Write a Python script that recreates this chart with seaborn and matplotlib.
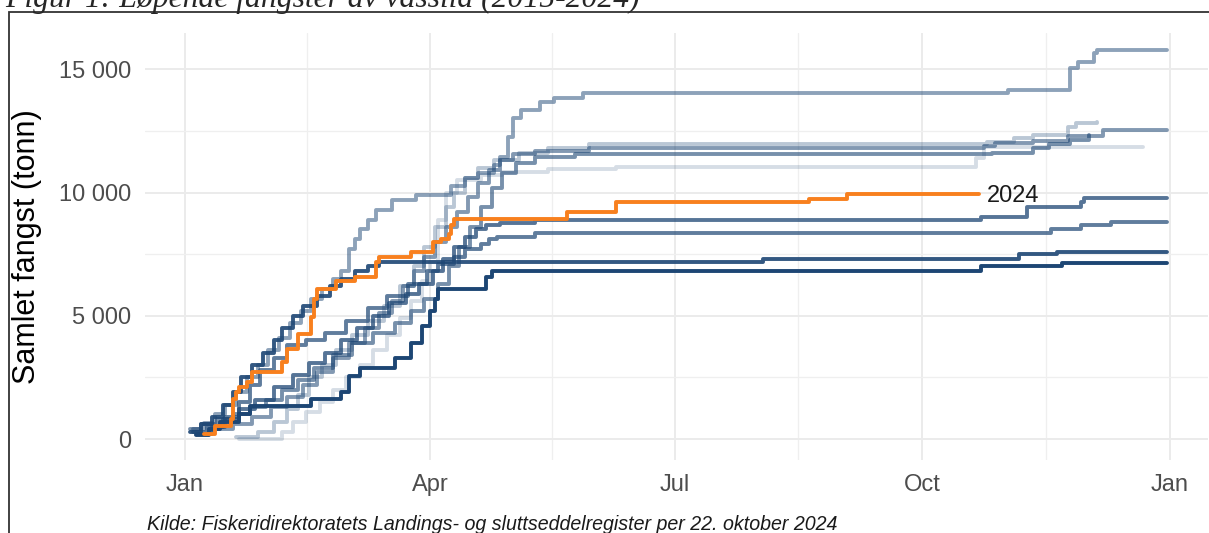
import matplotlib
matplotlib.use("Agg")
import matplotlib.pyplot as plt
from matplotlib.patches import Rectangle
import matplotlib.dates as mdates
import numpy as np
import pandas as pd
import seaborn as sns

# cumulative catch (tonn) per year
# days = days after 1 January, values step up at these days
days_2015 = [20, 33, 36, 40, 45, 50, 55, 60, 65, 70, 75, 80, 84, 88, 91, 94, 97, 101, 110, 118, 135, 160, 294, 297, 356]
tonn_2015 = [0, 0, 300, 700, 1100, 1500, 2000, 2500, 3000, 3600, 4200, 4900, 5600, 6400, 7200, 8900, 10000, 10500, 10700, 10850, 10950, 11050, 11420, 11860, 11860]

days_2016 = [19, 27, 33, 38, 42, 46, 51, 56, 62, 68, 74, 80, 85, 89, 93, 97, 100, 104, 109, 115, 124, 135, 150, 298, 308, 315, 328, 331, 339]
tonn_2016 = [100, 300, 700, 1200, 1800, 2500, 3000, 3600, 4200, 4800, 5400, 6200, 7000, 7800, 8600, 9400, 10000, 10600, 11000, 11300, 11600, 11800, 11950, 12060, 12230, 12350, 12670, 12830, 12870]

days_2017 = [3, 7, 11, 15, 19, 23, 27, 31, 35, 39, 43, 47, 51, 55, 58, 61, 63, 65, 68, 71, 77, 86, 99, 104, 109, 115, 117, 120, 122, 125, 132, 137, 148, 306, 329, 332, 338, 339, 365]
tonn_2017 = [400, 650, 1000, 1400, 1900, 2500, 3000, 3600, 4100, 4700, 5200, 5700, 6100, 6500, 6800, 7700, 8100, 8500, 8900, 9300, 9700, 9900, 10250, 10600, 10800, 11100, 11450, 12270, 13040, 13360, 13680, 13850, 14050, 14170, 15060, 15300, 15670, 15800, 15800]

days_2018 = [4, 10, 18, 25, 32, 38, 44, 49, 55, 61, 67, 72, 77, 81, 85, 89, 93, 97, 101, 105, 109, 113, 117, 122, 130, 150, 297, 301, 315, 328, 341, 365]
tonn_2018 = [200, 400, 600, 900, 1300, 1700, 2200, 2700, 3300, 3900, 4500, 5100, 5600, 6200, 6800, 7400, 8000, 8600, 9200, 9800, 10400, 10900, 11300, 11550, 11700, 11820, 11900, 12000, 12100, 12300, 12550, 12550]

days_2019 = [2, 6, 12, 18, 24, 30, 36, 42, 48, 55, 62, 70, 78, 84, 89, 94, 98, 102, 106, 110, 114, 118, 123, 130, 145, 300, 315, 321, 329, 336]
tonn_2019 = [400, 600, 800, 1000, 1300, 1600, 2000, 2400, 2900, 3400, 3900, 4300, 4700, 5200, 5700, 6300, 7000, 7800, 8600, 9400, 10200, 10800, 11200, 11450, 11580, 11620, 11800, 11950, 12150, 12350]

days_2020 = [5, 10, 15, 20, 24, 28, 33, 38, 45, 52, 60, 68, 75, 83, 90, 94, 100, 104, 110, 113, 116, 130, 322, 333, 344, 365]
tonn_2020 = [200, 500, 900, 1500, 2200, 2800, 3300, 3800, 4000, 4300, 4800, 5300, 5800, 6300, 6800, 7100, 7400, 7700, 7900, 8100, 8200, 8340, 8500, 8700, 8790, 8790]

days_2021 = [3, 8, 14, 20, 26, 33, 40, 46, 52, 58, 64, 70, 76, 82, 87, 92, 96, 100, 104, 108, 112, 117, 130, 296, 313, 333, 334, 365]
tonn_2021 = [300, 500, 800, 1200, 1600, 2100, 2600, 3100, 3500, 4000, 4500, 5000, 5500, 5900, 6300, 6800, 7300, 7800, 8200, 8500, 8700, 8780, 8900, 8990, 9430, 9600, 9760, 9760]

days_2022 = [2, 6, 10, 14, 18, 21, 25, 29, 33, 36, 40, 44, 49, 54, 58, 63, 68, 72, 215, 310, 324, 365]
tonn_2022 = [300, 600, 900, 1400, 1900, 2500, 3000, 3500, 4000, 4500, 5000, 5400, 5800, 6200, 6500, 6800, 7000, 7200, 7290, 7490, 7570, 7570]

days_2023 = [4, 9, 13, 20, 24, 47, 58, 61, 65, 78, 84, 88, 91, 93, 94, 112, 114, 296, 326, 365]
tonn_2023 = [150, 400, 700, 1000, 1340, 1620, 1900, 2550, 2900, 3300, 3900, 4600, 5200, 5700, 6070, 6560, 6800, 7000, 7125, 7125]

days_2024 = [7, 11, 17, 18, 19, 20, 23, 25, 36, 38, 42, 47, 48, 49, 56, 63, 71, 72, 84, 92, 95, 98, 99, 100, 142, 160, 232, 246, 295]
tonn_2024 = [200, 530, 810, 1620, 1900, 2100, 2310, 2710, 3120, 3640, 4250, 4940, 5670, 6070, 6400, 6560, 7170, 7370, 7570, 7980, 8100, 8300, 8700, 8910, 9190, 9600, 9720, 9920, 9920]

old_years = [2015, 2016, 2017, 2018, 2019, 2020, 2021, 2022, 2023]
old_alpha = [0.18, 0.3, 0.5, 0.55, 0.6, 0.7, 0.75, 0.9, 1.0]

y_ticks = [0, 5000, 10000, 15000]
y_labels = ["0", "5 000", "10 000", "15 000"]
x_labels = ["Jan", "Apr", "Jul", "Oct", "Jan"]

base = pd.Timestamp("2024-01-01")
series = {
    2015: (days_2015, tonn_2015), 2016: (days_2016, tonn_2016),
    2017: (days_2017, tonn_2017), 2018: (days_2018, tonn_2018),
    2019: (days_2019, tonn_2019), 2020: (days_2020, tonn_2020),
    2021: (days_2021, tonn_2021), 2022: (days_2022, tonn_2022),
    2023: (days_2023, tonn_2023), 2024: (days_2024, tonn_2024),
}
rows = []
for yr, (d, v) in series.items():
    for dd, vv in zip(d, v):
        rows.append({"aar": yr, "dato": base + pd.Timedelta(days=dd), "tonn": vv})
df = pd.DataFrame(rows)

sns.set_theme(style="white")
plt.rcParams['font.family'] = ['Liberation Sans', 'DejaVu Sans']

fig = plt.figure(figsize=(12.09, 5.33), dpi=100)
ax = fig.add_axes([145 / 1209, 73 / 533, 1063 / 1209, 427 / 533])

navy = "#1D4674"
for yr, a in zip(old_years, old_alpha):
    sub = df[df["aar"] == yr]
    sns.lineplot(data=sub, x="dato", y="tonn", color=navy, alpha=a, lw=2.8,
                 drawstyle="steps-post", estimator=None, sort=False, ax=ax)

sub = df[df["aar"] == 2024]
sns.lineplot(data=sub, x="dato", y="tonn", color="#F8801E", lw=2.8,
             drawstyle="steps-post", estimator=None, sort=False, ax=ax)
ax.annotate("2024", xy=(sub["dato"].iloc[-1], sub["tonn"].iloc[-1]),
            xytext=(6, -1), textcoords="offset points", ha="left", va="center",
            fontsize=17, color="#1A1A1A")

# axes and grid
major_dates = [pd.Timestamp(s) for s in ["2024-01-01", "2024-04-01", "2024-07-01", "2024-10-01", "2025-01-01"]]
major_num = mdates.date2num(major_dates)
minor_num = (major_num[:-1] + major_num[1:]) / 2
ax.set_xticks(major_num)
ax.set_xticklabels(x_labels)
ax.set_xticks(minor_num, minor=True)
ax.set_xlim(mdates.date2num(base - pd.Timedelta(days=14.86)),
            mdates.date2num(base + pd.Timedelta(days=380.2)))

ax.set_yticks(y_ticks)
ax.set_yticklabels(y_labels)
ax.set_yticks([2500, 7500, 12500], minor=True)
ax.set_ylim(-850, 16470)

ax.grid(which="major", color="#EBEBEB", lw=1.4)
ax.grid(which="minor", color="#EFEFEF", lw=0.9)
ax.set_axisbelow(True)
for s in ax.spines.values():
    s.set_visible(False)
ax.tick_params(axis="both", which="both", length=0, labelsize=17, labelcolor="#4D4D4D")
ax.tick_params(axis="x", pad=10)
ax.tick_params(axis="y", pad=10)

ax.set_xlabel("")
ax.set_ylabel("Samlet fangst (tonn)", fontsize=22, color="black")
ax.yaxis.set_label_coords(-0.097, 0.5)

# caption, source and frame
fig.text(5 / 1209, 1 - 6.5 / 533, "Figur 1: Løpende fangster av vassild (2015-2024)",
         family=["Liberation Serif", "DejaVu Serif"], style="italic", fontsize=22.8,
         ha="left", va="baseline")
fig.text(147 / 1209, 1 - 530 / 533,
         "Kilde: Fiskeridirektoratets Landings- og sluttseddelregister per 22. oktober 2024",
         style="italic", fontsize=14.1, color="#1A1A1A", ha="left", va="baseline")
fig.patches.append(Rectangle((8.5 / 1209, -0.2), 1.5, 1.2 - 12 / 533,
                             transform=fig.transFigure, fill=False,
                             edgecolor="#333333", lw=1.3))

fig.savefig("out.png", dpi=100)
